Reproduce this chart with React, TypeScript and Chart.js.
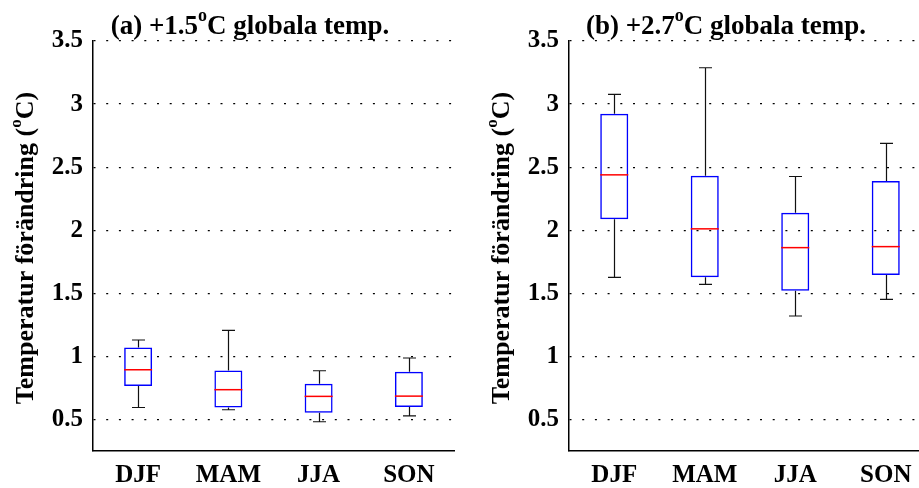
import React, { useEffect, useRef } from "react";
import { Chart, registerables } from "chart.js";

Chart.register(...registerables);

const categories = ["DJF", "MAM", "JJA", "SON"];
const yTicks = [0.5, 1, 1.5, 2, 2.5, 3, 3.5];
const yMin = 0.25;
const yMax = 3.5;

// Panel (a): +1.5 °C global temperature
const aMin = [0.595, 0.577, 0.482, 0.529];
const aQ1 = [0.765, 0.595, 0.553, 0.598];
const aMedian = [0.894, 0.736, 0.683, 0.685];
const aQ3 = [1.07, 0.889, 0.783, 0.878];
const aMax = [1.13, 1.206, 0.886, 0.987];

// Panel (b): +2.7 °C global temperature
const bMin = [1.627, 1.571, 1.32, 1.452];
const bQ1 = [2.087, 1.627, 1.521, 1.645];
const bMedian = [2.439, 2.011, 1.862, 1.87];
const bQ3 = [2.923, 2.431, 2.138, 2.391];
const bMax = [3.077, 3.288, 2.426, 2.688];

const FONT = "'Liberation Serif', 'Times New Roman', serif";

type Stats = { min: number[]; q1: number[]; med: number[]; q3: number[]; max: number[] };

function drawSupText(ctx: CanvasRenderingContext2D, pre: string, sup: string, post: string, size: number, supSize: number, rise: number, cx: number, baseline: number) {
  const main = `bold ${size}px ${FONT}`;
  const small = `bold ${supSize}px ${FONT}`;
  ctx.font = main;
  const w1 = ctx.measureText(pre).width;
  const w3 = ctx.measureText(post).width;
  ctx.font = small;
  const w2 = ctx.measureText(sup).width;
  const total = w1 + w2 + w3;
  let x = cx - total / 2;
  ctx.textAlign = "left";
  ctx.textBaseline = "alphabetic";
  ctx.fillStyle = "#000";
  ctx.font = main;
  ctx.fillText(pre, x, baseline);
  x += w1;
  ctx.font = small;
  ctx.fillText(sup, x, baseline - rise);
  x += w2;
  ctx.font = main;
  ctx.fillText(post, x, baseline);
}

function boxPlugin(stats: Stats, titlePre: string, titlePost: string) {
  return {
    id: "boxExtras",
    beforeDatasetsDraw(chart: any) {
      const { ctx, scales } = chart;
      const xs = scales.x;
      const ys = scales.y;
      ctx.save();
      ctx.strokeStyle = "#111";
      ctx.lineWidth = 1.2;
      categories.forEach((_, i) => {
        const x = Math.round(xs.getPixelForValue(i)) + 0.5;
        const yTop = ys.getPixelForValue(stats.max[i]);
        const yQ3 = ys.getPixelForValue(stats.q3[i]);
        const yQ1 = ys.getPixelForValue(stats.q1[i]);
        const yBot = ys.getPixelForValue(stats.min[i]);
        const hw = 6.5;
        ctx.beginPath();
        ctx.moveTo(x, yQ3);
        ctx.lineTo(x, yTop);
        ctx.moveTo(x - hw, yTop);
        ctx.lineTo(x + hw, yTop);
        ctx.moveTo(x, yQ1);
        ctx.lineTo(x, yBot);
        ctx.moveTo(x - hw, yBot);
        ctx.lineTo(x + hw, yBot);
        ctx.stroke();
      });
      ctx.restore();
    },
    afterDatasetsDraw(chart: any) {
      const { ctx, scales } = chart;
      const ys = scales.y;
      const meta = chart.getDatasetMeta(0);
      ctx.save();
      ctx.strokeStyle = "#ff0000";
      ctx.lineWidth = 1.5;
      categories.forEach((_, i) => {
        const el = meta.data[i];
        const half = el.width / 2;
        const y = ys.getPixelForValue(stats.med[i]);
        ctx.beginPath();
        ctx.moveTo(el.x - half, y);
        ctx.lineTo(el.x + half, y);
        ctx.stroke();
      });
      ctx.restore();
    },
    afterDraw(chart: any) {
      const { ctx, chartArea } = chart;
      ctx.save();
      drawSupText(ctx, titlePre, "o", titlePost, 27, 18, 13, chartArea.left + 157, 34);
      ctx.translate(chartArea.left - 60, (chartArea.top + chartArea.bottom) / 2 + 2);
      ctx.rotate(-Math.PI / 2);
      drawSupText(ctx, "Temperatur förändring (", "o", "C)", 26, 17, 12, 0, 0);
      ctx.restore();
    },
  };
}

function makeConfig(stats: Stats, yAxisWidth: number, padRight: number, titlePre: string, titlePost: string): any {
  const tickFont = { family: FONT, size: 25, weight: "bold" as const };
  return {
    type: "bar",
    data: {
      labels: categories,
      datasets: [
        {
          data: categories.map((_, i) => [stats.q1[i], stats.q3[i]]),
          backgroundColor: "rgba(255,255,255,0)",
          borderColor: "#0000ff",
          borderWidth: 1.5,
          borderSkipped: false,
          barPercentage: 0.31,
          categoryPercentage: 1,
        },
      ],
    },
    options: {
      responsive: false,
      animation: false,
      devicePixelRatio: 1,
      layout: { padding: { top: 41, right: padRight, left: 0, bottom: 0 } },
      plugins: { legend: { display: false }, tooltip: { enabled: false }, title: { display: false } },
      scales: {
        x: {
          type: "category",
          offset: true,
          grid: { display: false, drawTicks: false },
          border: { display: true, color: "#000", width: 1.5 },
          ticks: { color: "#000", font: tickFont, padding: 10, maxRotation: 0, autoSkip: false },
          afterFit: (s: any) => {
            s.height = 37;
          },
        },
        y: {
          type: "linear",
          min: yMin,
          max: yMax,
          afterBuildTicks: (s: any) => {
            s.ticks = yTicks.map((v) => ({ value: v }));
          },
          grid: { color: "#000", lineWidth: 1.2, drawTicks: false },
          border: { display: true, color: "#000", width: 1.5, dash: [2, 10.7] },
          ticks: { color: "#000", font: tickFont, padding: 10, callback: (v: any) => String(v) },
          afterFit: (s: any) => {
            s.width = yAxisWidth;
          },
        },
      },
    },
    plugins: [boxPlugin(stats, titlePre, titlePost)],
  };
}

export default function App() {
  const leftRef = useRef<HTMLCanvasElement>(null);
  const rightRef = useRef<HTMLCanvasElement>(null);

  useEffect(() => {
    const a: Stats = { min: aMin, q1: aQ1, med: aMedian, q3: aQ3, max: aMax };
    const b: Stats = { min: bMin, q1: bQ1, med: bMedian, q3: bQ3, max: bMax };
    const c1 = new Chart(leftRef.current!, makeConfig(a, 93, 6, "(a) +1.5", "C globala temp."));
    const c2 = new Chart(rightRef.current!, makeConfig(b, 109, 9, "(b) +2.7", "C globala temp."));
    return () => {
      c1.destroy();
      c2.destroy();
    };
  }, []);

  return (
    <div style={{ position: "fixed", left: 0, top: 0, width: 919, height: 488, overflow: "hidden", background: "#fff" }}>
      <canvas ref={leftRef} width={460} height={488} style={{ position: "absolute", left: 0, top: 0 }} />
      <canvas ref={rightRef} width={480} height={488} style={{ position: "absolute", left: 460, top: 0 }} />
    </div>
  );
}
